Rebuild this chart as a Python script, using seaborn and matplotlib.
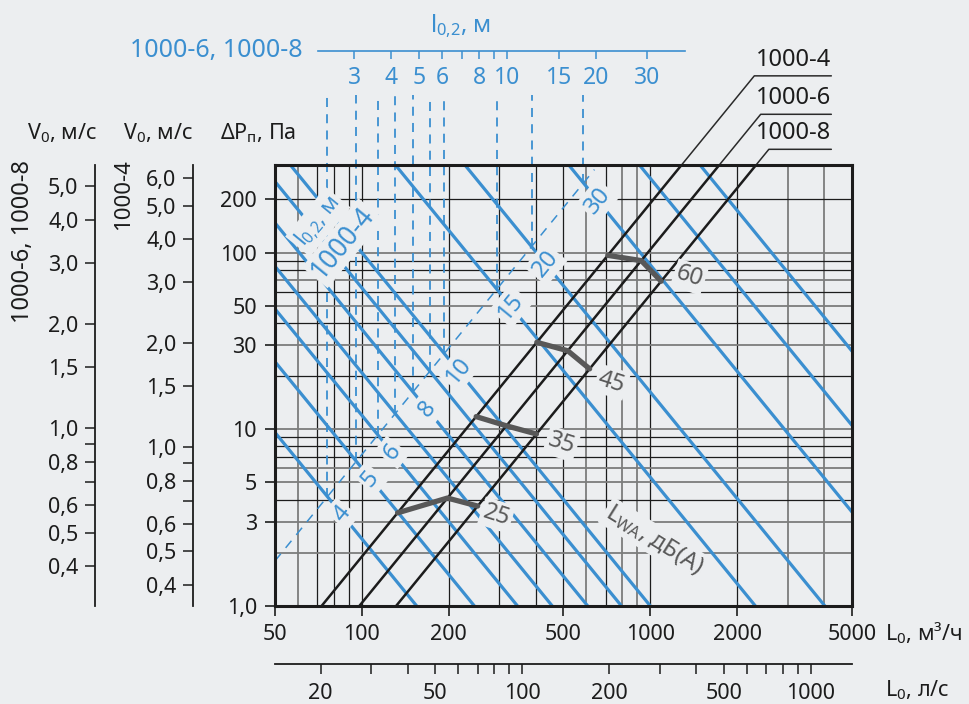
import matplotlib
matplotlib.use("Agg")
import matplotlib.pyplot as plt
import numpy as np
import seaborn as sns
from matplotlib.ticker import NullLocator

# --- main nomogram: L0 (m3/h) vs dP (Pa) ---
x_ticks = [50, 100, 200, 500, 1000, 2000, 5000]
y_ticks = [1, 3, 5, 10, 30, 50, 100, 200]
y_tick_labels = ["1,0", "3", "5", "10", "30", "50", "100", "200"]
x_grid_black = [70, 80, 90, 100, 200, 300, 400, 500, 700, 1000, 2000]
x_grid_gray = [60, 600, 800, 900, 3000, 4000]
y_grid_black = [4, 7, 8, 9, 20, 40, 60, 80, 90, 200]
y_grid_gray = [2, 3, 5, 6, 10, 30, 50, 70, 100]

# diffuser lines dP = (L / L_1Pa)^2
sizes = ["1000-4", "1000-6", "1000-8"]
size_L_at_1pa = [72.5, 98.0, 131.4]
size_label_dp = [1000, 606, 384]

# blue throw lines l0,2 (dP at L = 100 m3/h)
throw_l = [4, 5, 6, 7, 8, 9, 10, 15, 20, 30, 40, 50]
throw_dp_at_100 = [2.40, 6.03, 12.0, 20.9, 36.8, 63.1, 100, 535, 1622, 8511, 26300, 69200]
throw_dropped = [4, 5, 6, 7, 8, 9, 10, 15, 20, 30]
throw_labelled = [4, 5, 6, 8, 10, 15, 20, 30]
diag_dp_at_100 = 7.2

# LwA noise, dB(A): L0 on each diffuser line
noise_levels = [25, 35, 45, 60]
noise_L = [[133, 198, 252], [249, 317, 403], [404, 517, 616], [712, 930, 1090]]
noise_label_L = [293, 492, 734, 1366]
noise_label_dp = [3.27, 8.26, 18.5, 72.8]

# V0 scales
v68_ticks = [0.4, 0.5, 0.6, 0.7, 0.8, 0.9, 1.0, 1.5, 2.0, 3.0, 4.0, 5.0]
v68_labels = ["0,4", "0,5", "0,6", "", "0,8", "", "1,0", "1,5", "2,0", "3,0", "4,0", "5,0"]
v68_lim = (0.307, 5.75)
v4_ticks = [0.4, 0.5, 0.6, 0.7, 0.8, 0.9, 1.0, 1.5, 2.0, 3.0, 4.0, 5.0, 6.0]
v4_labels = ["0,4", "0,5", "0,6", "", "0,8", "", "1,0", "1,5", "2,0", "3,0", "4,0", "5,0", "6,0"]
v4_lim = (0.3475, 6.556)

# L0 in l/s
ls_ticks = [20, 30, 40, 50, 60, 70, 80, 90, 100, 200, 300, 400, 500, 600, 700, 800, 900, 1000]
ls_labelled = [20, 50, 100, 200, 500, 1000]

# top l0,2 scale for 1000-6, 1000-8
top_ticks = [3, 4, 5, 6, 7, 8, 9, 10, 15, 20, 30]
top_labelled = [3, 4, 5, 6, 8, 10, 15, 20, 30]
top_lim = (2.26, 40.3)

BG = "#eceef0"
BLUE = "#3b8fd0"
INK = "#1c1c1c"
GRAY = "#7c7c7c"
NOISE = "#585858"
W, H = 970, 704


def box(x0, y0, x1, y1):
    return [x0 / W, 1 - y1 / H, (x1 - x0) / W, (y1 - y0) / H]


def ftext(x, y, s, **kw):
    fig.text(x / W, 1 - y / H, s, **kw)


sns.set_theme(style="white")
plt.rcParams["font.family"] = ["Noto Sans", "DejaVu Sans"]
plt.rcParams["mathtext.default"] = "regular"

fig = plt.figure(figsize=(W / 100, H / 100), dpi=100)
fig.patch.set_facecolor(BG)

ax = fig.add_axes(box(275, 165, 852, 606))
ax.set_facecolor("none")
ax.set_xscale("log")
ax.set_yscale("log")
ax.set_xlim(50, 5000)
ax.set_ylim(1, 313)

for v in x_grid_black:
    ax.axvline(v, color=INK, lw=0.9, zorder=1)
for v in x_grid_gray:
    ax.axvline(v, color=GRAY, lw=1.3, zorder=1)
for v in y_grid_black:
    ax.axhline(v, color=INK, lw=0.9, zorder=1)
for v in y_grid_gray:
    ax.axhline(v, color=GRAY, lw=1.3, zorder=1)

# blue throw lines
L_span = np.array([50.0, 5000.0])
for l, dp100 in zip(throw_l, throw_dp_at_100):
    sns.lineplot(x=L_span, y=dp100 * (100 / L_span) ** 2, ax=ax, color=BLUE, lw=2.3, zorder=2)

# dashed reference line of l0,2 for 1000-4 and the drops to the top scale
diag_L = np.array([50.0, 640.0])
ax.plot(diag_L, diag_dp_at_100 * (diag_L / 100) ** 2, color=BLUE, lw=1.1,
        dashes=(6, 5), zorder=3)
for l, dp100 in zip(throw_l, throw_dp_at_100):
    Lc = 100 * (dp100 / diag_dp_at_100) ** 0.25
    dpc = diag_dp_at_100 * (Lc / 100) ** 2
    if l in throw_dropped:
        ax.plot([Lc, Lc], [dpc, 780], color=BLUE, lw=1.3, dashes=(5, 4),
                clip_on=False, zorder=3)
    if l in throw_labelled:
        Lt = Lc * 1.12
        ax.text(Lt, dp100 * (100 / Lt) ** 2, str(l), color=BLUE, fontsize=17,
                rotation=50.7, ha="center", va="center", zorder=6,
                bbox=dict(boxstyle="square,pad=0.12", fc=BG, ec="none"))

ax.text(70.4, 149, r"l$_{0{,}2}$, м", color=BLUE, fontsize=16, rotation=50.7,
        ha="center", va="center", zorder=6,
        bbox=dict(boxstyle="square,pad=0.15", fc=BG, ec="none"))
ax.text(86, 113, "1000-4", color=BLUE, fontsize=19, rotation=50.7,
        ha="center", va="center", zorder=6,
        bbox=dict(boxstyle="square,pad=0.1", fc=BG, ec="none"))

# diffuser lines with leaders to the labels
dp_top = ax.get_ylim()[1]
L_end = 4240
for name, L1, dpl in zip(sizes, size_L_at_1pa, size_label_dp):
    Lb, Lt, Ll = L1, L1 * np.sqrt(dp_top), L1 * np.sqrt(dpl)
    sns.lineplot(x=[Lb, Lt], y=[1, dp_top], ax=ax, color=INK, lw=1.8, zorder=4)
    ax.plot([Lt, Ll, L_end], [dp_top, dpl, dpl], color="#2a2a2a", lw=1.1,
            clip_on=False, zorder=4)
    ax.annotate(name, xy=(L_end, dpl), xytext=(0, 3), textcoords="offset points",
                ha="right", va="bottom", fontsize=17, color=INK,
                annotation_clip=False)

# LwA noise segments
for lvl, Ls, Lx, dpx in zip(noise_levels, noise_L, noise_label_L, noise_label_dp):
    Ls = np.array(Ls, dtype=float)
    dps = (Ls / np.array(size_L_at_1pa)) ** 2
    sns.lineplot(x=Ls, y=dps, ax=ax, color=NOISE, lw=3.8, zorder=5)
    ax.text(Lx, dpx, str(lvl), color=NOISE, fontsize=17, rotation=-18,
            ha="center", va="center", zorder=6,
            bbox=dict(boxstyle="square,pad=0.1", fc=BG, ec="none"))
ax.text(1034, 2.36, r"L$_{WA}$, дБ(А)", color=NOISE, fontsize=17, rotation=-32,
        ha="center", va="center", zorder=6,
        bbox=dict(boxstyle="square,pad=0.1", fc=BG, ec="none"))

ax.set_xticks(x_ticks, labels=[str(v) for v in x_ticks])
ax.set_yticks(y_ticks, labels=y_tick_labels)
ax.xaxis.set_minor_locator(NullLocator())
ax.yaxis.set_minor_locator(NullLocator())
ax.tick_params(direction="out", length=7, width=1.2, color=INK, labelcolor=INK,
               labelsize=15.5, pad=6, bottom=True, left=True)
for s in ax.spines.values():
    s.set_linewidth(2.2)
    s.set_color(INK)
    s.set_zorder(7)
ax.set_xlabel("")
ax.set_ylabel("")

# V0 scales on the left
for xpos, ticks, labels, lim in [(95, v68_ticks, v68_labels, v68_lim),
                                  (193, v4_ticks, v4_labels, v4_lim)]:
    av = fig.add_axes(box(xpos, 165, xpos + 1, 606))
    av.set_facecolor("none")
    av.set_yscale("log")
    av.set_ylim(*lim)
    av.set_yticks(ticks, labels=labels)
    av.yaxis.set_minor_locator(NullLocator())
    av.set_xticks([])
    for k in ["top", "right", "bottom"]:
        av.spines[k].set_visible(False)
    av.spines["left"].set_linewidth(1.3)
    av.spines["left"].set_color(INK)
    av.tick_params(axis="y", direction="out", length=7, width=1.1, color=INK,
                   labelcolor=INK, labelsize=15.5, pad=5, left=True)

# L0 in l/s
als = fig.add_axes(box(275, 640, 852, 664))
als.set_facecolor("none")
als.set_xscale("log")
als.set_xlim(50 / 3.6, 5000 / 3.6)
als.set_xticks(ls_ticks, labels=[str(v) if v in ls_labelled else "" for v in ls_ticks])
als.xaxis.set_minor_locator(NullLocator())
als.set_yticks([])
for k in ["top", "right", "left"]:
    als.spines[k].set_visible(False)
als.spines["bottom"].set_linewidth(1.3)
als.spines["bottom"].set_color(INK)
als.tick_params(axis="x", direction="out", length=7, width=1.1, color=INK,
                labelcolor=INK, labelsize=15.5, pad=7, bottom=True)

# top l0,2 scale
atop = fig.add_axes(box(318, 30, 685, 51))
atop.set_facecolor("none")
atop.set_xscale("log")
atop.set_xlim(*top_lim)
atop.set_xticks(top_ticks, labels=[str(v) if v in top_labelled else "" for v in top_ticks])
atop.xaxis.set_minor_locator(NullLocator())
atop.set_yticks([])
for k in ["top", "right", "left"]:
    atop.spines[k].set_visible(False)
atop.spines["bottom"].set_linewidth(1.2)
atop.spines["bottom"].set_color(BLUE)
atop.tick_params(axis="x", direction="out", length=6, width=1.1, color=BLUE,
                 labelcolor=BLUE, labelsize=16.5, pad=5, bottom=True)

# captions
ftext(885, 633, r"L$_0$, м³/ч", fontsize=15.5, color=INK, ha="left", va="center")
ftext(885, 690, r"L$_0$, л/с", fontsize=15.5, color=INK, ha="left", va="center")
ftext(62, 133, r"V$_0$, м/с", fontsize=15.5, color=INK, ha="center", va="center")
ftext(158, 133, r"V$_0$, м/с", fontsize=15.5, color=INK, ha="center", va="center")
ftext(258, 133, r"ΔP$_п$, Па", fontsize=15.5, color=INK, ha="center", va="center")
ftext(23, 242, "1000-6, 1000-8", fontsize=17, color=INK, rotation=90,
      ha="center", va="center")
ftext(124, 195, "1000-4", fontsize=16, color=INK, rotation=90,
      ha="center", va="center")
ftext(303, 51, "1000-6, 1000-8", fontsize=18, color=BLUE, ha="right", va="center")
ftext(460, 26, r"l$_{0{,}2}$, м", fontsize=17, color=BLUE, ha="center", va="center")

fig.savefig("out.png", dpi=100, facecolor=BG)
